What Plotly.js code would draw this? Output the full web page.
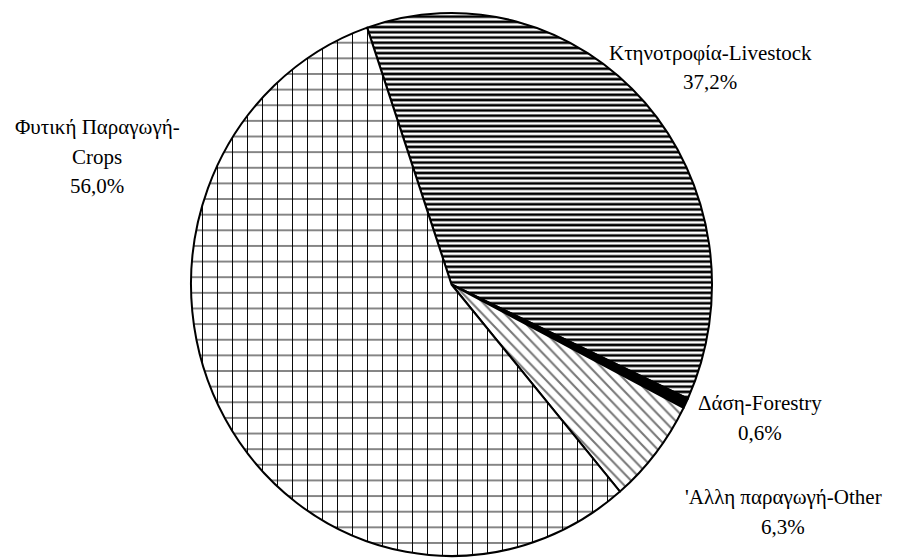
<!DOCTYPE html>
<html><head><meta charset="utf-8">
<script src="https://cdn.plot.ly/plotly-3.0.1.min.js"></script>
<style>html,body{margin:0;padding:0;background:#fff;}#chart{width:897px;height:558px;}</style>
</head><body><div id="chart"></div>
<script>
const categories = ["Κτηνοτροφία-Livestock", "Δάση-Forestry", "'Αλλη παραγωγή-Other", "Φυτική Παραγωγή-<br>Crops"];
const values = [37.2, 0.6, 6.3, 56.0];
const percentLabels = ["37,2%", "0,6%", "6,3%", "56,0%"];

// label block placement (centre x, first-line y) in pixels
const labelPos = [
  {x: 710, y: 53},
  {x: 760, y: 403},
  {x: 783, y: 497},
  {x: 97, y: 127}
];
const LINE_GAP = 29.5;
const W = 897, H = 558;
const CX = 451.5, CY = 284.5, R = 260.5, SY = 271.5 / 260.5;

const trace = {
  type: 'pie',
  labels: categories,
  values: values,
  sort: false,
  direction: 'clockwise',
  rotation: -18.9,
  textinfo: 'none',
  hoverinfo: 'label+percent',
  showlegend: false,
  domain: {x: [(CX - R) / W, (CX + R) / W], y: [(H - (CY + R)) / H, (H - (CY - R)) / H]},
  marker: {
    colors: ['#ffffff', '#000000', '#ffffff', '#ffffff'],
    line: {color: '#000000', width: 2},
    pattern: {
      shape: ['-', '', '\\', '+'],
      fgcolor: ['#000000', '#000000', '#777777', '#000000'],
      bgcolor: ['#ffffff', '#000000', '#ffffff', '#ffffff'],
      size: [5, 8, 8, 15],
      solidity: [0.5, 0.3, 0.25, 0.12],
      fillmode: 'replace'
    }
  }
};

const FONT = 'Liberation Serif';
const annotations = [];
categories.forEach((c, i) => {
  const lines = (c + '<br>' + percentLabels[i]).split('<br>');
  lines.forEach((ln, j) => {
    annotations.push({
      text: ln,
      x: labelPos[i].x / W,
      y: 1 - (labelPos[i].y + j * LINE_GAP) / H,
      xref: 'paper', yref: 'paper',
      xanchor: 'center', yanchor: 'middle',
      showarrow: false,
      align: 'center',
      font: {family: FONT, size: 21, color: '#000'}
    });
  });
});

Plotly.newPlot('chart', [trace], {
  width: W, height: H,
  margin: {l: 0, r: 0, t: 0, b: 0},
  paper_bgcolor: '#ffffff',
  annotations: annotations,
  font: {family: FONT, size: 21, color: '#000'}
}, {displayModeBar: false, staticPlot: true}).then(gd => {
  // the reference pie is slightly taller than wide: stretch the pie layer vertically about its centre
  const layer = gd.querySelector('.pielayer');
  if (layer) layer.setAttribute('transform', `translate(0,${CY}) scale(1,${SY}) translate(0,${-CY})`);
});
</script>
</body></html>
